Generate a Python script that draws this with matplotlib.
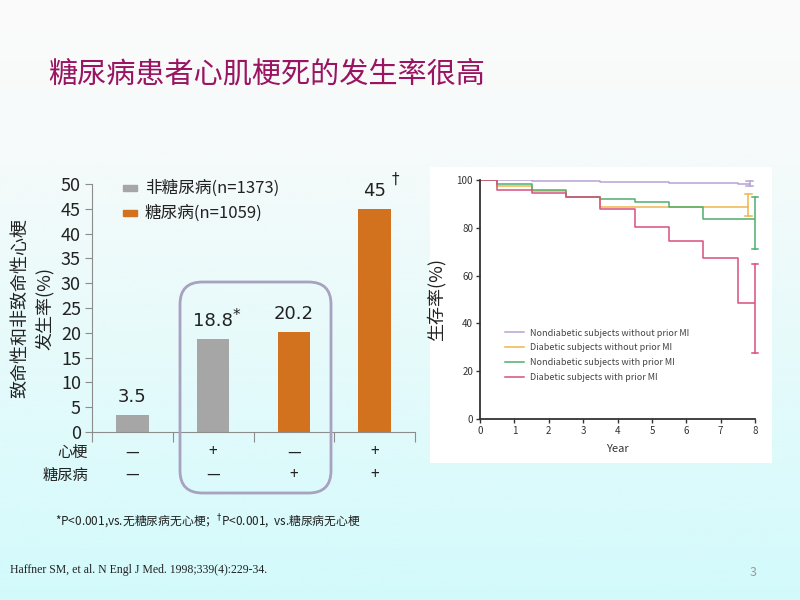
import numpy as np
import matplotlib
matplotlib.use("Agg")
import matplotlib.pyplot as plt
from matplotlib.patches import FancyBboxPatch, Rectangle
from matplotlib.colors import LinearSegmentedColormap

plt.rcParams['font.family'] = ['Noto Sans CJK SC', 'DejaVu Sans']

# ---- data: bar chart ----
bar_values = [3.5, 18.8, 20.2, 45]
bar_labels = ["3.5", "18.8", "20.2", "45"]
bar_marks = ["", "*", "", "†"]
bar_groups = ["非糖尿病", "非糖尿病", "糖尿病", "糖尿病"]
mi_row = ["—", "+", "—", "+"]
dm_row = ["—", "—", "+", "+"]
legend_labels = {"非糖尿病": "非糖尿病(n=1373)", "糖尿病": "糖尿病(n=1059)"}
group_colors = {"非糖尿病": "#a6a6a6", "糖尿病": "#d2711e"}

# ---- data: survival curves (year of step, survival %) ----
step_years = [0, 0.5, 1.5, 2.5, 3.5, 4.5, 5.5, 6.5, 7.5]
surv_nd_nomi = [100, 99.8, 99.6, 99.4, 99.2, 99.0, 98.8, 98.6, 98.4]
surv_dm_nomi = [100, 97.5, 95.5, 93.0, 88.8, 88.6, 88.6, 88.6, 88.6]
surv_nd_mi = [100, 98.3, 96.0, 93.0, 92.2, 90.7, 88.5, 83.7, 83.7]
surv_dm_mi = [100, 95.8, 94.4, 92.7, 88.0, 80.2, 74.6, 67.2, 48.7]
end_years = [7.85, 7.8, 8.0, 8.0]
err_low = [97.3, 85.0, 71.0, 27.5]
err_high = [99.6, 94.0, 92.9, 64.9]
surv_names = ["Nondiabetic subjects without prior MI",
              "Diabetic subjects without prior MI",
              "Nondiabetic subjects with prior MI",
              "Diabetic subjects with prior MI"]
surv_colors = ["#b9a3d3", "#f0b54a", "#4fae6e", "#d9507c"]

fig = plt.figure(figsize=(8, 6), dpi=100)

# background gradient
bg = fig.add_axes([0, 0, 1, 1], zorder=-10)
cmap = LinearSegmentedColormap.from_list("bg", [(0, "#fbfbfb"), (0.25, "#f6fafa"), (1, "#d3fafc")])
bg.imshow(np.linspace(0, 1, 256).reshape(-1, 1), aspect="auto", cmap=cmap, extent=[0, 1, 0, 1])
bg.axis("off")

fig.text(48 / 800, 1 - 75 / 600, "糖尿病患者心肌梗死的发生率很高", fontsize=21,
         color="#9a1462", va="center", ha="left")

# ---- bar chart ----
ax = fig.add_axes([92 / 800, 1 - 432 / 600, (415 - 92) / 800, (432 - 184) / 600])
ax.set_facecolor("none")
x = np.arange(len(bar_values))
colors = [group_colors[g] for g in bar_groups]
ax.bar(x, bar_values, width=0.4, color=colors)
ax.set_xlim(-0.5, 3.5)
ax.set_ylim(0, 50)
ax.set_yticks(range(0, 51, 5))
ax.set_xticks([-0.5, 0.5, 1.5, 2.5, 3.5])
ax.set_xticklabels([])
for s in ["top", "right"]:
    ax.spines[s].set_visible(False)
for s in ["left", "bottom"]:
    ax.spines[s].set_color("#8c8c8c")
ax.tick_params(axis="y", colors="#8c8c8c", labelcolor="#222222", labelsize=13, length=5, pad=3)
ax.tick_params(axis="x", colors="#8c8c8c", length=7)
for xi, v, lab, mk in zip(x, bar_values, bar_labels, bar_marks):
    ax.text(xi, v + 1.8, lab, ha="center", va="bottom", fontsize=13, color="#222222",
            family="DejaVu Sans")
    if mk:
        off = (17, 10) if mk == "*" else (15, 15)
        ax.annotate(mk, (xi, v + 1.8), xytext=off,
                    textcoords="offset points", fontsize=11, color="#222222",
                    ha="center", va="center", family="DejaVu Sans")
ax.set_ylabel("致命性和非致命性心梗\n发生率(%)", fontsize=13, color="#222222",
              linespacing=1.4, labelpad=5)

# legend (manual)
for i, g in enumerate(["非糖尿病", "糖尿病"]):
    ypx = 188 + i * 25
    fig.patches.append(Rectangle((123 / 800, 1 - (ypx + 3) / 600), 14 / 800, 6 / 600,
                                 transform=fig.transFigure, color=group_colors[g]))
    fig.text(145 / 800, 1 - ypx / 600, legend_labels[g], fontsize=12, color="#222222",
             va="center", ha="left")

# condition rows below axis
fig.text(88 / 800, 1 - 452 / 600, "心梗", fontsize=11, ha="right", va="center", color="#222222")
fig.text(88 / 800, 1 - 475 / 600, "糖尿病", fontsize=11, ha="right", va="center", color="#222222")
for xi, a, b in zip(x, mi_row, dm_row):
    ax.text(xi, -4.0, a, ha="center", va="center", fontsize=11, color="#222222",
            transform=ax.transData, clip_on=False)
    ax.text(xi, -8.6, b, ha="center", va="center", fontsize=11, color="#222222",
            transform=ax.transData, clip_on=False)

# rounded box around middle groups
fig.patches.append(FancyBboxPatch((180 / 800, 1 - 493 / 600), (331 - 180) / 800, (493 - 282) / 600,
                                  boxstyle="round,pad=0,rounding_size=0.028",
                                  transform=fig.transFigure, fill=False,
                                  edgecolor="#a7a2bf", linewidth=2, mutation_aspect=1.33))

# ---- survival panel ----
panel = fig.add_axes([430 / 800, 1 - 463 / 600, (772 - 430) / 800, (463 - 167) / 600], zorder=-5)
panel.set_facecolor("white")
panel.set_xticks([])
panel.set_yticks([])
for s in panel.spines.values():
    s.set_visible(False)

ax2 = fig.add_axes([480 / 800, 1 - 419 / 600, (755 - 480) / 800, (419 - 180) / 600])
ax2.set_facecolor("white")
series = [surv_nd_nomi, surv_dm_nomi, surv_nd_mi, surv_dm_mi]
for vals, end, lo, hi, name, c in zip(series, end_years, err_low, err_high, surv_names, surv_colors):
    xs = step_years + [end]
    ys = vals + [vals[-1]]
    ax2.step(xs, ys, where="post", color=c, linewidth=1.1, label=name)
    ax2.plot([end, end], [lo, hi], color=c, linewidth=1.1, clip_on=False)
    ax2.plot([end - 0.1, end + 0.1], [lo, lo], color=c, linewidth=1.1, clip_on=False)
    ax2.plot([end - 0.1, end + 0.1], [hi, hi], color=c, linewidth=1.1, clip_on=False)
ax2.set_xlim(0, 8)
ax2.set_ylim(0, 100)
ax2.set_xticks(range(0, 9))
ax2.set_yticks(range(0, 101, 20))
for s in ["top", "right"]:
    ax2.spines[s].set_visible(False)
for s in ["left", "bottom"]:
    ax2.spines[s].set_linewidth(1.3)
    ax2.spines[s].set_color("#333333")
ax2.tick_params(labelsize=7, length=3, width=1, colors="#333333", pad=2)
ax2.set_xlabel("Year", fontsize=8, color="#333333", labelpad=6)
ax2.set_ylabel("生存率(%)", fontsize=13, color="#222222", labelpad=8)
ax2.legend(loc="lower left", bbox_to_anchor=(0.06, 0.12), frameon=False, fontsize=6.5,
           handlelength=2.2, handletextpad=0.6, labelspacing=0.65, labelcolor="#444444")

# ---- footnotes ----
fig.text(55 / 800, 1 - 522 / 600, "*P<0.001,vs.无糖尿病无心梗；$^{†}$P<0.001,  vs.糖尿病无心梗",
         fontsize=8.5, color="#222222", va="center")
fig.text(10 / 800, 1 - 570 / 600, "Haffner SM, et al. N Engl J Med. 1998;339(4):229-34.",
         fontsize=8.5, color="#222222", va="center", family="Liberation Serif")
fig.text(750 / 800, 1 - 573 / 600, "3", fontsize=9, color="#999999", va="center")

fig.savefig("out.png", dpi=100)
